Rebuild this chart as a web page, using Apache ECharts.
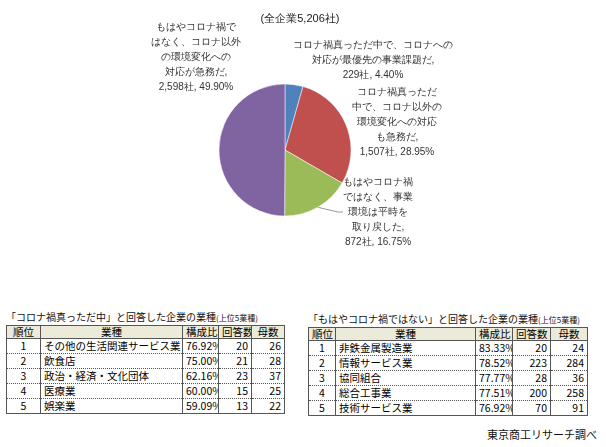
<!DOCTYPE html>
<html><head><meta charset="utf-8">
<script src="https://cdn.jsdelivr.net/npm/echarts@6/dist/echarts.min.js"></script>
<style>
body{margin:0;background:#fff;font-family:"Noto Sans CJK JP",sans-serif;}
#c{position:absolute;left:0;top:0;width:606px;height:290px;}
.t{position:absolute;font-size:10px;color:#111;}
table{border-collapse:collapse;font-size:10.5px;position:absolute;table-layout:fixed;}
td,th{border-left:1px solid #555;border-right:1px solid #555;border-bottom:1px dotted #555;padding:0 3px;height:14px;line-height:14px;white-space:nowrap;overflow:hidden;}
th{background:#ecead8;font-weight:normal;border-bottom:1px solid #555;border-top:1px solid #555;height:12px;line-height:12px;}
tr:last-child td{border-bottom:1px solid #555;}
.c{text-align:center}.r{text-align:right}
</style></head><body>
<div id="c"></div>
<div class="t" style="left:6px;top:309px;">「コロナ禍真っただ中」と回答した企業の業種<span style="font-size:8px">(上位5業種)</span></div>
<div class="t" style="left:308px;top:311px;">「もはやコロナ禍ではない」と回答した企業の業種<span style="font-size:8px">(上位5業種)</span></div>
<table id="t1" style="left:6px;top:325px;width:278px;"></table>
<table id="t2" style="left:308px;top:327px;width:279px;"></table>
<div class="t" style="left:487px;top:426px;font-size:11px;">東京商工リサーチ調べ</div>
<script>
const pieNames=['コロナ禍真っただ中で、コロナへの\n対応が最優先の事業課題だ','コロナ禍真っただ\n中で、コロナ以外の\n環境変化への対応\nも急務だ','もはやコロナ禍\nではなく、事業\n環境は平時を\n取り戻した','もはやコロナ禍で\nはなく、コロナ以外\nの環境変化への\n対応が急務だ'];
const pieCounts=[229,1507,872,2598];
const piePcts=['4.40%','28.95%','16.75%','49.90%'];
const pieColors=['#4f81bd','#c0504d','#9bbb59','#8064a2'];
const headers=['順位','業種','構成比','回答数','母数'];
const t1Ind=['その他の生活関連サービス業','飲食店','政治・経済・文化団体','医療業','娯楽業'];
const t1Pct=['76.92%','75.00%','62.16%','60.00%','59.09%'];
const t1Ans=[20,21,23,15,13];
const t1Tot=[26,28,37,25,22];
const t2Ind=['非鉄金属製造業','情報サービス業','協同組合','総合工事業','技術サービス業'];
const t2Pct=['83.33%','78.52%','77.77%','77.51%','76.92%'];
const t2Ans=[20,223,28,200,70];
const t2Tot=[24,284,36,258,91];

function build(id,ind,pct,ans,tot,w){
  let h='<colgroup>'+w.map(x=>'<col style="width:'+x+'px">').join('')+'</colgroup><tr>'+headers.map(x=>'<th>'+x+'</th>').join('')+'</tr>';
  ind.forEach((n,i)=>{h+='<tr><td class="c">'+(i+1)+'</td><td>'+n+'</td><td class="r">'+pct[i]+'</td><td class="r">'+ans[i]+'</td><td class="r">'+tot[i]+'</td></tr>';});
  document.getElementById(id).innerHTML=h;
}
build('t1',t1Ind,t1Pct,t1Ans,t1Tot,[34,142,36,33,33]);
build('t2',t2Ind,t2Pct,t2Ans,t2Tot,[27,140,37,38,37]);

const labelPos=[[373,60],[397,122],[378,212],[196,57]];
const ch=echarts.init(document.getElementById('c'));
ch.setOption({
  animation:false,
  title:{text:'(全企業5,206社)',left:295,top:8,textAlign:'center',textStyle:{fontSize:11,fontWeight:'normal',color:'#222'}},
  series:[{type:'pie',center:[285,150],radius:66,startAngle:90,clockwise:true,
    data:pieCounts.map((v,i)=>({value:v,name:pieNames[i],itemStyle:{color:pieColors[i]},
      labelLine:{show:i===2}})),
    itemStyle:{borderColor:'#fff',borderWidth:0.5},
    label:{show:true,fontSize:10,lineHeight:15,color:'#333',align:'center',
      formatter:p=>p.name+',\n'+p.value.toLocaleString('en-US')+'社, '+piePcts[p.dataIndex]},
    labelLine:{lineStyle:{color:'#999'},length:5,length2:5},
    labelLayout:p=>({x:labelPos[p.dataIndex][0],y:labelPos[p.dataIndex][1],align:'center',verticalAlign:'middle'})
  }]
});
</script></body></html>
